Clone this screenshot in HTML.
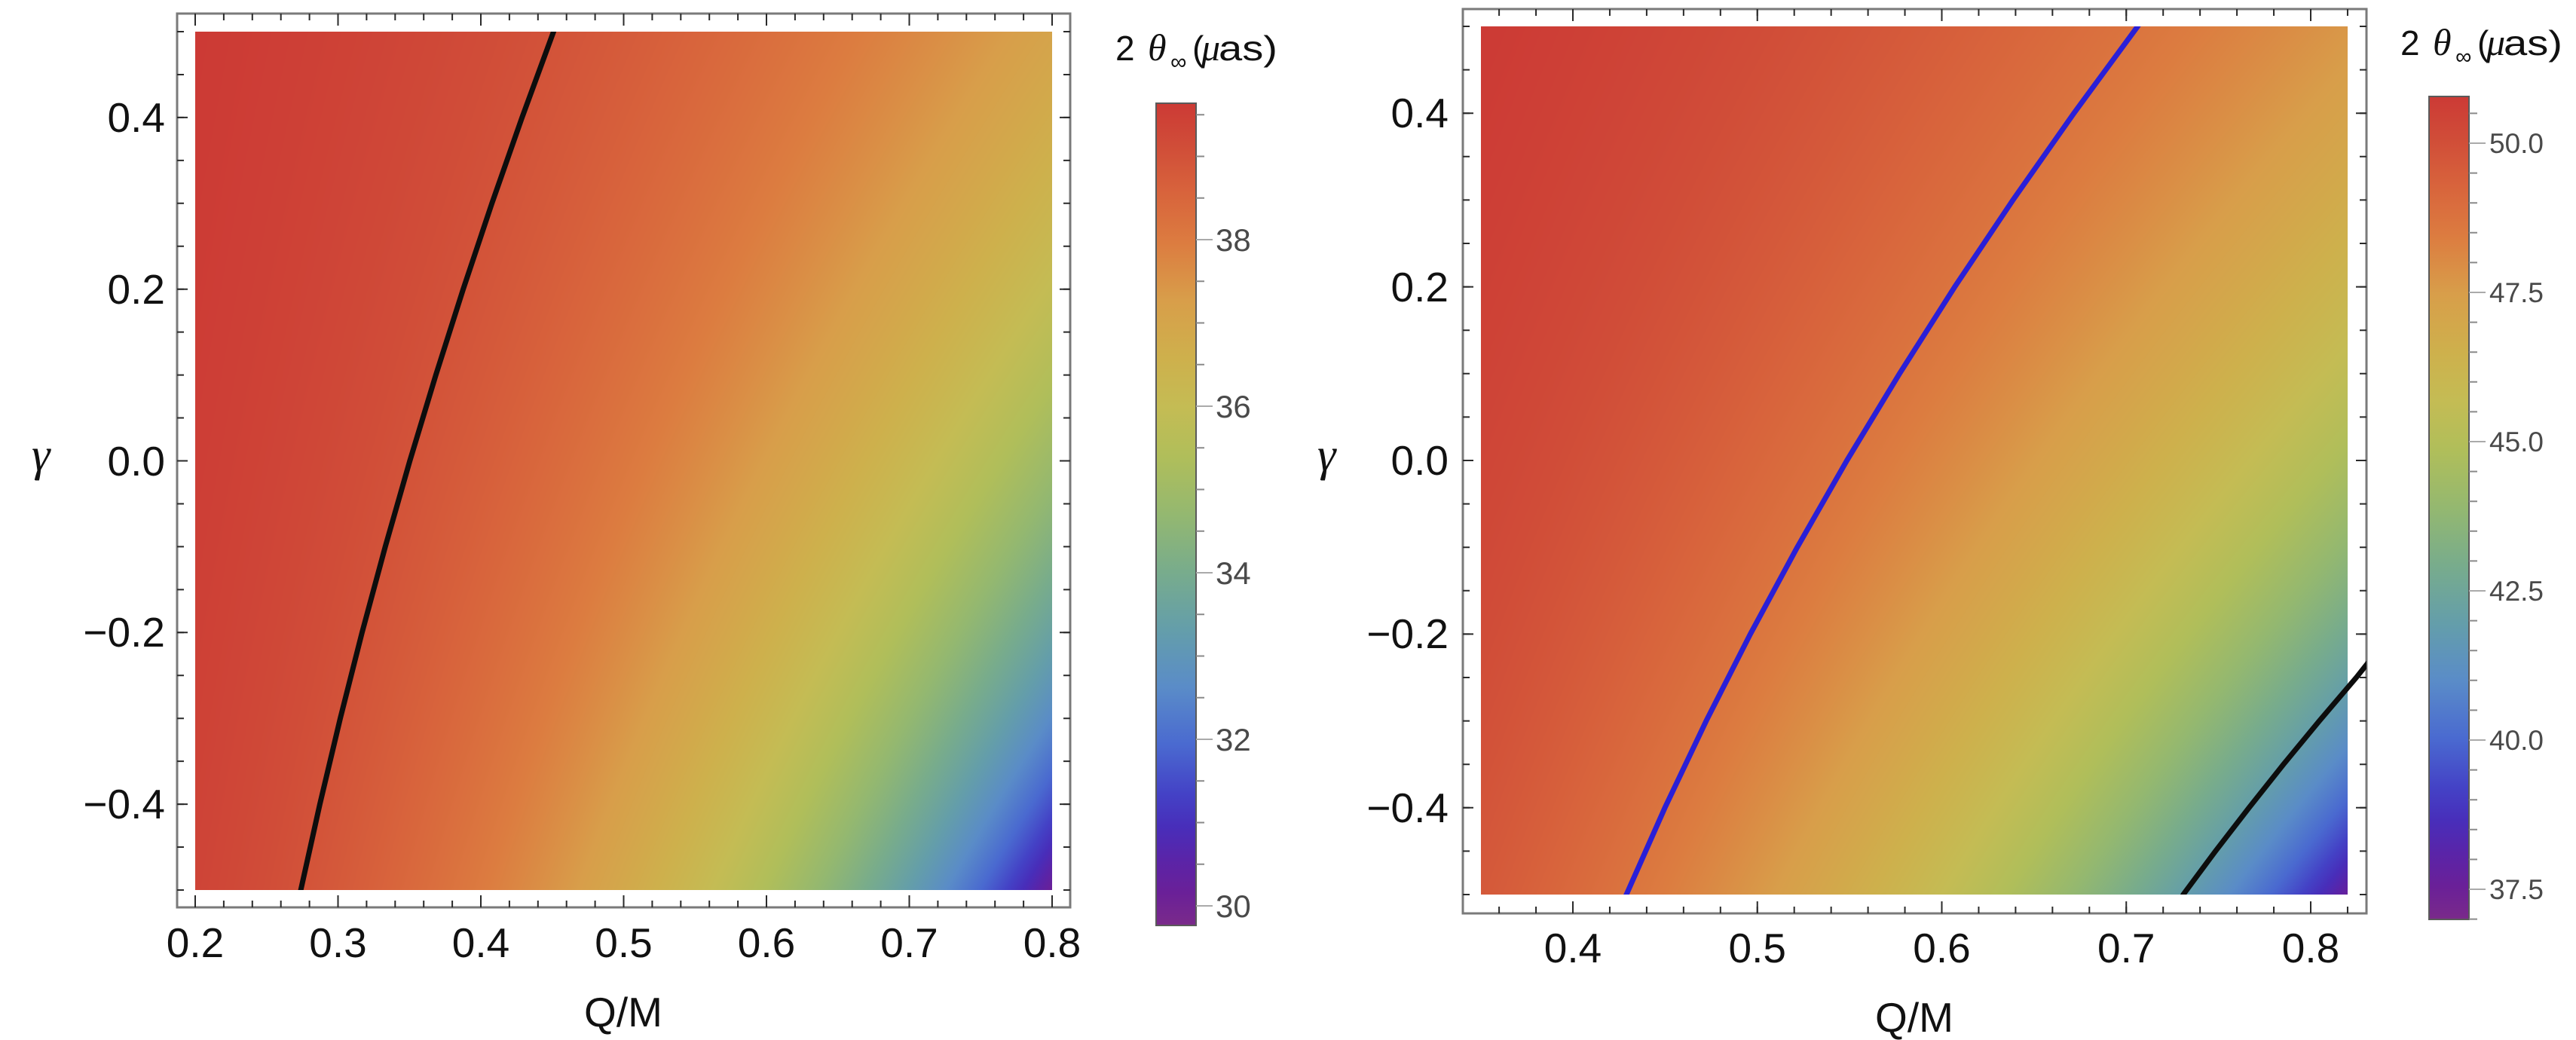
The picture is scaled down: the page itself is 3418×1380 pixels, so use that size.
<!DOCTYPE html>
<html>
<head>
<meta charset="utf-8">
<style>
html,body{margin:0;padding:0;background:#fff;}
body{width:3418px;height:1380px;position:relative;overflow:hidden;}
canvas{position:absolute;display:block;}
#c1{left:259px;top:42px;width:1137px;height:1139px;background:linear-gradient(to right,#cd3c33 0%,#d4583a 20%,#dc7c40 40%,#d8a04a 60%,#b0bc5a 85%,#88b478 100%);}
#c2{left:1965px;top:35px;width:1150px;height:1152px;background:linear-gradient(to right,#cd3c33 0%,#d65a3a 25%,#dc7c40 50%,#d8a04a 75%,#c4bc54 100%);}
svg{position:absolute;left:0;top:0;}
text{font-family:"Liberation Sans",Arial,sans-serif;}
.ser{font-family:"Liberation Serif","DejaVu Serif",serif;font-style:italic;}
</style>
</head>
<body>
<canvas id="c1"></canvas>
<canvas id="c2"></canvas>
<svg width="3418" height="1380" viewBox="0 0 3418 1380" xmlns="http://www.w3.org/2000/svg">
<defs>
<linearGradient id="cb" x1="0" y1="1" x2="0" y2="0">
<stop offset="0" stop-color="rgb(122,42,138)"/>
<stop offset="0.04" stop-color="rgb(106,32,152)"/>
<stop offset="0.08" stop-color="rgb(90,36,168)"/>
<stop offset="0.12" stop-color="rgb(72,46,186)"/>
<stop offset="0.16" stop-color="rgb(68,66,198)"/>
<stop offset="0.22" stop-color="rgb(74,106,208)"/>
<stop offset="0.29" stop-color="rgb(90,140,200)"/>
<stop offset="0.36" stop-color="rgb(100,158,170)"/>
<stop offset="0.43" stop-color="rgb(120,172,140)"/>
<stop offset="0.50" stop-color="rgb(148,184,112)"/>
<stop offset="0.57" stop-color="rgb(176,190,90)"/>
<stop offset="0.63" stop-color="rgb(196,188,84)"/>
<stop offset="0.69" stop-color="rgb(206,176,76)"/>
<stop offset="0.76" stop-color="rgb(216,158,74)"/>
<stop offset="0.83" stop-color="rgb(220,124,64)"/>
<stop offset="0.89" stop-color="rgb(216,100,60)"/>
<stop offset="0.95" stop-color="rgb(208,76,56)"/>
<stop offset="1" stop-color="rgb(204,58,53)"/>
</linearGradient>
<clipPath id="clipL"><rect x="259" y="42" width="1137" height="1139"/></clipPath>
<clipPath id="clipR"><rect x="1965" y="35" width="1175" height="1152"/></clipPath>
</defs>

<!-- LEFT PANEL -->
<rect x="235" y="18" width="1185" height="1186" fill="none" stroke="#7a7a7a" stroke-width="3"/>
<g stroke="#2a2a2a">
<line x1="258" y1="1199.5" x2="1398" y2="1199.5" stroke-width="9" stroke-dasharray="2 35.9"/>
<line x1="258" y1="1196" x2="1398" y2="1196" stroke-width="16" stroke-dasharray="2 187.5"/>
<line x1="258" y1="22.5" x2="1398" y2="22.5" stroke-width="9" stroke-dasharray="2 35.9"/>
<line x1="258" y1="26" x2="1398" y2="26" stroke-width="16" stroke-dasharray="2 187.5"/>
<line x1="239.5" y1="41" x2="239.5" y2="1183" stroke-width="9" stroke-dasharray="2 54.95"/>
<line x1="242" y1="154.9" x2="242" y2="1070" stroke-width="14" stroke-dasharray="2 225.8"/>
<line x1="1415.5" y1="41" x2="1415.5" y2="1183" stroke-width="9" stroke-dasharray="2 54.95"/>
<line x1="1413" y1="154.9" x2="1413" y2="1070" stroke-width="14" stroke-dasharray="2 225.8"/>
</g>
<g clip-path="url(#clipL)">
<polyline fill="none" stroke="#0d0d0d" stroke-width="7" stroke-linejoin="round" stroke-linecap="round"
points="398.6,1184 399.1,1181 424.4,1067.1 451.5,953.2 480.4,839.3 511.2,725.4 543.8,611.5 578.3,497.6 614.6,383.7 652.7,269.8 692.7,155.9 734.5,42 735.5,38"/>
</g>
<g font-size="55" fill="#111" text-anchor="middle">
<text x="259" y="1270">0.2</text>
<text x="448.5" y="1270">0.3</text>
<text x="638" y="1270">0.4</text>
<text x="827.5" y="1270">0.5</text>
<text x="1017" y="1270">0.6</text>
<text x="1206.5" y="1270">0.7</text>
<text x="1396" y="1270">0.8</text>
</g>
<g font-size="55" fill="#111" text-anchor="end">
<text x="219" y="175">0.4</text>
<text x="219" y="403">0.2</text>
<text x="219" y="631">0.0</text>
<text x="219" y="858">−0.2</text>
<text x="219" y="1086">−0.4</text>
</g>
<text x="827" y="1362" font-size="55" fill="#111" text-anchor="middle">Q/M</text>
<text x="42" y="624" font-size="62" fill="#111" class="ser">γ</text>

<!-- LEFT COLORBAR -->
<rect x="1534" y="137" width="53" height="1091" fill="url(#cb)" stroke="#5a5a5a" stroke-width="2"/>
<line x1="1592.5" y1="151.25" x2="1592.5" y2="1203.5" stroke="#8a8a8a" stroke-width="11" stroke-dasharray="2 53.25"/>
<g stroke="#aaaaaa" stroke-width="2">
<line x1="1587" y1="318" x2="1609" y2="318"/>
<line x1="1587" y1="539" x2="1609" y2="539"/>
<line x1="1587" y1="760" x2="1609" y2="760"/>
<line x1="1587" y1="981" x2="1609" y2="981"/>
<line x1="1587" y1="1202" x2="1609" y2="1202"/>
</g>
<g font-size="42" fill="#4a4a4a">
<text x="1613" y="333">38</text>
<text x="1613" y="554">36</text>
<text x="1613" y="775">34</text>
<text x="1613" y="996">32</text>
<text x="1613" y="1217">30</text>
</g>
<g fill="#111">
<text x="1480" y="80" font-size="46">2</text>
<text x="1523" y="80" font-size="50" class="ser">θ</text>
<text x="1553" y="92" font-size="30" font-family="DejaVu Sans">∞</text>
<text x="1582" y="80" font-size="46">(</text>
<text x="1594" y="80" font-size="50" class="ser">μ</text>
<text x="1617" y="80" font-size="46" textLength="78" lengthAdjust="spacingAndGlyphs">as)</text>
</g>

<!-- RIGHT PANEL -->
<rect x="1941" y="12" width="1199" height="1200" fill="none" stroke="#7a7a7a" stroke-width="3"/>
<g stroke="#2a2a2a">
<line x1="1988.1" y1="1207.5" x2="3117" y2="1207.5" stroke-width="9" stroke-dasharray="2 46.95"/>
<line x1="2086" y1="1204" x2="3068" y2="1204" stroke-width="16" stroke-dasharray="2 242.75"/>
<line x1="1988.1" y1="16.5" x2="3117" y2="16.5" stroke-width="9" stroke-dasharray="2 46.95"/>
<line x1="2086" y1="20" x2="3068" y2="20" stroke-width="16" stroke-dasharray="2 242.75"/>
<line x1="1945.5" y1="34" x2="1945.5" y2="1189" stroke-width="9" stroke-dasharray="2 55.6"/>
<line x1="1948" y1="149.2" x2="1948" y2="1074" stroke-width="14" stroke-dasharray="2 228.4"/>
<line x1="3135.5" y1="34" x2="3135.5" y2="1189" stroke-width="9" stroke-dasharray="2 55.6"/>
<line x1="3133" y1="149.2" x2="3133" y2="1074" stroke-width="14" stroke-dasharray="2 228.4"/>
</g>
<g clip-path="url(#clipR)">
<polyline fill="none" stroke="#2a1fd6" stroke-width="7" stroke-linejoin="round" stroke-linecap="round"
points="2156.5,1190 2158,1187 2209.1,1071.8 2263.9,956.6 2322.4,841.4 2384.7,726.2 2450.6,611 2520.4,495.8 2593.7,380.6 2670.9,265.4 2751.8,150.2 2836.4,35 2839,31"/>
<polyline fill="none" stroke="#0d0d0d" stroke-width="7" stroke-linejoin="round" stroke-linecap="round"
points="2895.5,1190 2896.9,1187 2939.6,1129.4 2984.1,1071.8 3029.9,1014.2 3077.4,956.6 3126.5,899 3148,872"/>
</g>
<g font-size="55" fill="#111" text-anchor="middle">
<text x="2087" y="1277">0.4</text>
<text x="2331.75" y="1277">0.5</text>
<text x="2576.5" y="1277">0.6</text>
<text x="2821.25" y="1277">0.7</text>
<text x="3066" y="1277">0.8</text>
</g>
<g font-size="55" fill="#111" text-anchor="end">
<text x="1922" y="169">0.4</text>
<text x="1922" y="400">0.2</text>
<text x="1922" y="630">0.0</text>
<text x="1922" y="860">−0.2</text>
<text x="1922" y="1091">−0.4</text>
</g>
<text x="2540" y="1369" font-size="55" fill="#111" text-anchor="middle">Q/M</text>
<text x="1748" y="624" font-size="62" fill="#111" class="ser">γ</text>

<!-- RIGHT COLORBAR -->
<rect x="3223" y="128" width="53" height="1092" fill="url(#cb)" stroke="#5a5a5a" stroke-width="2"/>
<line x1="3281.5" y1="149.4" x2="3281.5" y2="1221" stroke="#8a8a8a" stroke-width="11" stroke-dasharray="2 37.6"/>
<g stroke="#aaaaaa" stroke-width="2">
<line x1="3276" y1="190" x2="3298" y2="190"/>
<line x1="3276" y1="388" x2="3298" y2="388"/>
<line x1="3276" y1="586" x2="3298" y2="586"/>
<line x1="3276" y1="784" x2="3298" y2="784"/>
<line x1="3276" y1="982" x2="3298" y2="982"/>
<line x1="3276" y1="1180" x2="3298" y2="1180"/>
</g>
<g font-size="37" fill="#4a4a4a">
<text x="3303" y="203">50.0</text>
<text x="3303" y="401">47.5</text>
<text x="3303" y="599">45.0</text>
<text x="3303" y="797">42.5</text>
<text x="3303" y="995">40.0</text>
<text x="3303" y="1193">37.5</text>
</g>
<g fill="#111">
<text x="3185" y="73" font-size="46">2</text>
<text x="3228" y="73" font-size="50" class="ser">θ</text>
<text x="3258" y="85" font-size="30" font-family="DejaVu Sans">∞</text>
<text x="3287" y="73" font-size="46">(</text>
<text x="3299" y="73" font-size="50" class="ser">μ</text>
<text x="3322" y="73" font-size="46" textLength="78" lengthAdjust="spacingAndGlyphs">as)</text>
</g>
</svg>
<script>
(function(){
var S=[[0,122,42,138],[0.04,106,32,152],[0.08,90,36,168],[0.12,72,46,186],[0.16,68,66,198],[0.22,74,106,208],[0.29,90,140,200],[0.36,100,158,170],[0.43,120,172,140],[0.5,148,184,112],[0.57,176,190,90],[0.63,196,188,84],[0.69,206,176,76],[0.76,216,158,74],[0.83,220,124,64],[0.89,216,100,60],[0.95,208,76,56],[1,204,58,53]];
function cm(t){
  if(t<=0)return [S[0][1],S[0][2],S[0][3]];
  var L=S[S.length-1];
  if(t>=1)return [L[1],L[2],L[3]];
  for(var i=1;i<S.length;i++){
    if(t<=S[i][0]){var a=S[i-1],b=S[i],f=(t-a[0])/(b[0]-a[0]);
      return [a[1]+(b[1]-a[1])*f,a[2]+(b[2]-a[2])*f,a[3]+(b[3]-a[3])*f];}
  }
  return [L[1],L[2],L[3]];
}
function rn(q){var q2=q*q;var r=(3+Math.sqrt(Math.max(0,9-8*q2)))/2;var den=r*r-2*r+q2;if(den<1e-6)den=1e-6;return r*r/Math.sqrt(den)/5.196152;}
function ql(g){return 0.3503+0.177*g+0.0486*g*g;}
function draw(id,W,H,q0,q1,th,vmin,vmax){
  var c=document.getElementById(id);if(!c||!c.getContext)return;
  c.width=W;c.height=H;var x=c.getContext('2d');var im=x.createImageData(W,H);var d=im.data;
  for(var j=0;j<H;j++){
    var g=0.5-(j+0.5)/H;var hh=0.348/ql(g);
    for(var i=0;i<W;i++){
      var Q=q0+(q1-q0)*(i+0.5)/W;var v=th*rn(Q*hh);
      var col=cm((v-vmin)/(vmax-vmin));var k=(j*W+i)*4;
      d[k]=col[0];d[k+1]=col[1];d[k+2]=col[2];d[k+3]=255;
    }
  }
  x.putImageData(im,0,0);
}
draw('c1',1137,1139,0.2,0.8,39.8,29.765,39.64);
draw('c2',1150,1152,0.35,0.82,51.41,37.0,50.78);
})();
</script>
</body>
</html>
